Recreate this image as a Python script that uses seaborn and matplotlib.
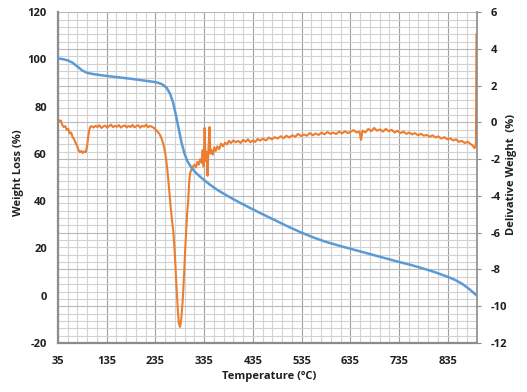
# <=============================================================>
#  TGA / DTG curve: weight loss and derivative weight vs temperature
# <=============================================================>
import pandas as pd
import seaborn as sns
import matplotlib.pyplot as plt
from matplotlib.ticker import MultipleLocator
# <=============================================================>
#  Data
# <=============================================================>
TEMP_W = [35, 45, 55, 65, 75, 85, 95, 110, 135, 160, 185, 210, 235, 248,
          258, 265, 271, 277, 283, 289, 295, 301, 308, 318, 330, 345, 362,
          380, 400, 425, 450, 480, 510, 535, 560, 585, 610, 635, 660, 685,
          710, 735, 760, 785, 810, 835, 850, 865, 880, 895]
WEIGHT = [100.4, 100.1, 99.6, 98.6, 97.0, 95.3, 94.3, 93.7, 93.0, 92.4,
          91.8, 91.1, 90.4, 89.6, 88.0, 85.5, 82.0, 76.5, 70.5, 64.5, 60.0,
          56.8, 54.5, 52.0, 49.8, 47.3, 44.8, 42.6, 40.3, 37.6, 35.0, 32.0,
          29.0, 26.7, 24.6, 22.8, 21.3, 19.9, 18.5, 17.1, 15.7, 14.3, 13.0,
          11.5, 9.9, 8.0, 6.7, 5.0, 2.7, 0.0]

TEMP_D = [35, 38, 41, 44, 47, 50, 53, 56, 59, 62, 65, 68, 71, 74, 77, 80,
          83, 86, 89, 92, 95, 97, 99, 101, 104, 108, 112, 116, 120, 124,
          128, 132, 136, 140, 144, 148, 152, 156, 160, 164, 168, 172, 176,
          180, 184, 188, 192, 196, 200, 204, 208, 212, 216, 220, 224, 228,
          232, 236, 240, 244, 248, 251, 254, 257, 260, 263, 266, 269, 272,
          275, 278, 281, 283, 285.5, 288, 291, 294, 296, 298, 300, 302.5,
          304, 306, 309, 312, 315, 318, 321, 324, 327, 330, 332, 334, 336,
          338, 340, 342, 344, 346, 348, 350, 353, 356, 359, 362, 366, 370,
          374, 378, 382, 386, 390, 395, 400, 405, 410, 415, 420, 425, 430,
          435, 440, 445, 450, 456, 462, 468, 474, 480, 486, 492, 498, 504,
          510, 516, 522, 528, 534, 540, 546, 552, 558, 564, 570, 576, 582,
          588, 594, 600, 606, 612, 618, 624, 630, 636, 642, 648, 654, 657,
          660, 666, 672, 678, 684, 690, 696, 702, 708, 714, 720, 726, 732,
          738, 744, 750, 756, 762, 768, 774, 780, 786, 792, 798, 804, 810,
          816, 822, 828, 834, 840, 846, 852, 858, 864, 870, 876, 882, 886,
          890, 893, 894]
DERIV = [0.20, 0.05, 0.10, -0.15, -0.25, -0.20, -0.40, -0.35, -0.60, -0.55,
         -0.80, -0.90, -1.10, -1.25, -1.50, -1.62, -1.55, -1.66, -1.58,
         -1.62, -1.25, -0.80, -0.45, -0.25, -0.20, -0.28, -0.18, -0.25,
         -0.15, -0.30, -0.22, -0.17, -0.28, -0.20, -0.12, -0.26, -0.18,
         -0.24, -0.14, -0.28, -0.20, -0.16, -0.27, -0.19, -0.25, -0.13,
         -0.27, -0.20, -0.15, -0.29, -0.18, -0.23, -0.12, -0.26, -0.19,
         -0.24, -0.30, -0.40, -0.52, -0.65, -0.90, -1.15, -1.50, -2.00,
         -2.70, -3.60, -4.50, -5.30, -6.00, -7.20, -8.80, -10.20, -10.90,
         -11.13, -10.70, -9.70, -8.20, -7.00, -6.00, -5.00, -4.20, -3.40,
         -2.78, -2.55, -2.40, -2.30, -2.45, -2.15, -2.30, -2.00, -2.20,
         -1.50, -2.40, -0.30, -2.10, -1.60, -2.90, -1.40, -0.25, -1.70,
         -1.50, -1.75, -1.35, -1.55, -1.30, -1.45, -1.15, -1.30, -1.10,
         -1.20, -1.00, -1.12, -0.98, -1.08, -1.00, -1.12, -0.95, -1.05,
         -0.92, -1.08, -0.98, -1.06, -0.90, -0.99, -0.88, -0.98, -0.82,
         -0.92, -0.80, -0.88, -0.75, -0.86, -0.72, -0.82, -0.70, -0.78,
         -0.62, -0.74, -0.66, -0.72, -0.58, -0.70, -0.60, -0.68, -0.55,
         -0.65, -0.52, -0.62, -0.55, -0.63, -0.50, -0.60, -0.48, -0.58,
         -0.50, -0.42, -0.55, -0.50, -0.95, -0.45, -0.55, -0.35, -0.48,
         -0.30, -0.45, -0.38, -0.50, -0.35, -0.48, -0.40, -0.55, -0.45,
         -0.58, -0.50, -0.62, -0.55, -0.65, -0.58, -0.70, -0.62, -0.72,
         -0.68, -0.78, -0.70, -0.82, -0.76, -0.88, -0.80, -0.92, -0.86,
         -0.98, -0.92, -1.06, -1.00, -1.12, -1.05, -1.18, -1.25, -1.40,
         -1.20, 4.80]

X_TICKS = [35, 135, 235, 335, 435, 535, 635, 735, 835]
LEFT_TICKS = [-20, 0, 20, 40, 60, 80, 100, 120]
RIGHT_TICKS = [-12, -10, -8, -6, -4, -2, 0, 2, 4, 6]
# <=============================================================>
#  Style
# <=============================================================>
BLUE = '#5B9BD5'
ORANGE = '#ED7D31'
AXIS_GRAY = '#8c8c8c'
TEXT = '#1f1f1f'

sns.set_style('white')
plt.rcParams['font.family'] = ['Open Sans', 'DejaVu Sans']
plt.rcParams['font.weight'] = 'bold'
plt.rcParams['axes.labelweight'] = 'bold'
plt.rcParams['axes.unicode_minus'] = False
# <=============================================================>
#  Figure
# <=============================================================>
df_w = pd.DataFrame({'Temp': TEMP_W, 'Weight': WEIGHT})
df_d = pd.DataFrame({'Temp': TEMP_D, 'Deriv': DERIV})

fig = plt.figure(figsize=(5.27, 3.92), dpi=100)
# host axes carries the derivative series and all grid lines
ax = fig.add_axes([0.110, 0.125, 0.795, 0.844])
sns.lineplot(data=df_d, x='Temp', y='Deriv', ax=ax, color=ORANGE,
             linewidth=1.5, estimator=None, sort=False)
axw = ax.twinx()
sns.lineplot(data=df_w, x='Temp', y='Weight', ax=axw, color=BLUE,
             linewidth=1.8, estimator=None, sort=False)

# put the axes back on their sides (twinx moves them)
ax.yaxis.tick_right()
ax.yaxis.set_label_position('right')
axw.yaxis.tick_left()
axw.yaxis.set_label_position('left')

ax.set_xlim(35, 895)
ax.set_ylim(-12, 6)
axw.set_ylim(-20, 120)
ax.set_xticks(X_TICKS)
ax.xaxis.set_minor_locator(MultipleLocator(20, offset=15))
ax.set_yticks(RIGHT_TICKS)
ax.yaxis.set_minor_locator(MultipleLocator(0.4))
axw.set_yticks(LEFT_TICKS)

# grid
ax.set_axisbelow(True)
ax.grid(which='major', axis='x', color='#a0a0a0', linewidth=0.8)
ax.grid(which='minor', axis='x', color='#d2d2d2', linewidth=0.8)
ax.grid(which='major', axis='y', color='#b8b8b8', linewidth=0.8)
ax.grid(which='minor', axis='y', color='#d2d2d2', linewidth=0.8)

# ticks
ax.tick_params(axis='x', which='both', length=0, pad=9, labelsize=8, labelcolor=TEXT)
ax.tick_params(axis='y', which='major', length=3, color=AXIS_GRAY, pad=7,
               labelsize=8, labelcolor=TEXT)
ax.tick_params(axis='y', which='minor', length=0)
axw.tick_params(axis='y', length=0, pad=8, labelsize=8, labelcolor=TEXT)

# spines
ax.spines['top'].set_visible(False)
for side in ['left', 'bottom']:
    ax.spines[side].set_color(AXIS_GRAY)
    ax.spines[side].set_linewidth(1.6)
ax.spines['right'].set_color(AXIS_GRAY)
ax.spines['right'].set_linewidth(1.2)
for side in axw.spines:
    axw.spines[side].set_visible(False)

# labels
ax.set_xlabel('Temperature (ºC)', fontsize=8, color=TEXT)
ax.xaxis.set_label_coords(0.5036, -0.085)
axw.set_ylabel('Weight Loss (%)', fontsize=8, color=TEXT)
axw.yaxis.set_label_coords(-0.082, 0.514)
ax.set_ylabel('Delivative Weight  (%)', fontsize=8, color=TEXT)
ax.yaxis.set_label_coords(1.070, 0.508)

fig.savefig('out.png', dpi=100)
